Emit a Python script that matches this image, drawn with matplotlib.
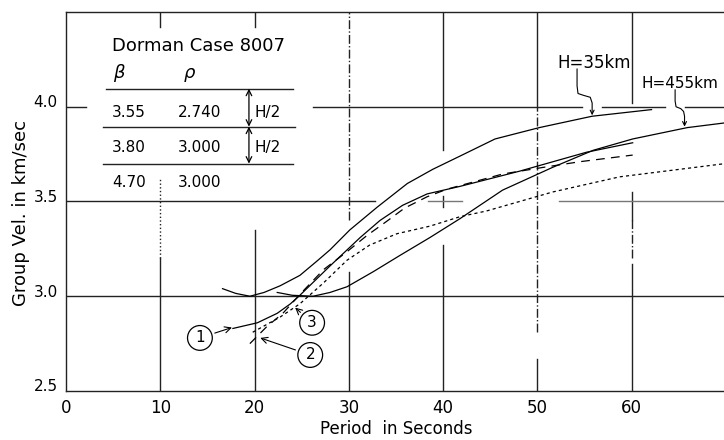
import matplotlib
matplotlib.use('Agg')
from matplotlib import pyplot as plt
from matplotlib.patches import FancyArrowPatch
from matplotlib.path import Path
from matplotlib import transforms

# H = 35 km curve
h35_x = [16.6, 18.0, 19.5, 21.0, 22.7, 24.8, 26.6, 28.0, 30.1, 33.0, 36.2, 38.9, 41.8, 45.5, 50.2, 55.8, 62.1]
h35_y = [3.04, 3.015, 3.0, 3.02, 3.055, 3.11, 3.185, 3.245, 3.35, 3.47, 3.595, 3.67, 3.74, 3.83, 3.89, 3.95, 3.985]

# H = 45.5 km curve
h455_x = [22.4, 24.0, 26.2, 28.0, 29.8, 32.6, 35.4, 38.6, 41.8, 46.3, 51.6, 55.9, 60.1, 65.9, 69.9]
h455_y = [3.02, 3.005, 3.0, 3.02, 3.05, 3.13, 3.215, 3.31, 3.41, 3.56, 3.68, 3.77, 3.83, 3.89, 3.915]

# curve (1) solid
c1_x = [17.7, 20.3, 22.4, 23.8, 24.8, 28.0, 31.2, 33.3, 35.7, 38.3, 41.8, 48.1, 55.2, 60.1]
c1_y = [2.83, 2.86, 2.91, 2.96, 3.005, 3.16, 3.31, 3.40, 3.48, 3.54, 3.58, 3.66, 3.76, 3.81]

# curve (2) long dashes
c2_x = [19.5, 21.3, 23.0, 25.0, 27.3, 29.8, 31.9, 34.0, 35.9, 38.3, 40.4, 46.3, 50.6, 54.5, 60.1]
c2_y = [2.75, 2.84, 2.91, 3.02, 3.14, 3.235, 3.32, 3.395, 3.465, 3.525, 3.565, 3.645, 3.68, 3.71, 3.745]

# curve (3) short dashes
c3_x = [19.8, 22.7, 24.8, 27.3, 29.8, 32.2, 35.1, 38.6, 41.8, 44.6, 51.6, 58.7, 69.9]
c3_y = [2.81, 2.89, 2.96, 3.07, 3.19, 3.27, 3.33, 3.37, 3.42, 3.45, 3.55, 3.63, 3.70]

x_ticks = [0, 10, 20, 30, 40, 50, 60]
y_ticks = [2.5, 3.0, 3.5, 4.0]

beta = ['3.55', '3.80', '4.70']
rho = ['2.740', '3.000', '3.000']

fig = plt.figure(figsize=(7.24, 4.40), dpi=100)
ax = fig.add_axes([0.0912, 0.1114, 0.9116, 0.8613])
ax.set_xlim(0, 70)
ax.set_ylim(2.5, 4.5)

gc = '#222222'
# broken vertical rulings, (x, y0, y1, style)
vsegs = [
    (10, 4.42, 4.5, '-'), (10, 3.2, 3.62, ':'), (10, 2.5, 3.2, '-'),
    (20, 4.42, 4.5, '-'), (20, 2.5, 3.35, '-'),
    (30, 3.4, 4.5, '-.'), (30, 2.5, 3.13, '-'),
    (40, 3.77, 4.5, '-'), (40, 3.47, 3.53, '-'), (40, 2.5, 3.27, '-'),
    (50, 4.0, 4.5, '-'), (50, 2.81, 4.0, '-.'), (50, 2.5, 2.67, '-'),
    (60, 4.02, 4.5, '-'), (60, 3.4, 3.55, '-'), (60, 3.2, 3.4, '-.'), (60, 2.5, 3.17, '-'),
]
for x, y0, y1, ls in vsegs:
    ax.plot([x, x], [y0, y1], color=gc, lw=1.0, ls=ls)

hsegs = [
    (4.0, 0, 2.1, gc), (4.0, 26.2, 54.7, gc), (4.0, 56.8, 63.5, gc), (4.0, 65.6, 70, gc),
    (3.5, 0, 32.8, gc), (3.5, 38.4, 42.0, '#777777'), (3.5, 52.3, 70, '#777777'),
    (3.0, 0, 70, gc),
]
for y, x0, x1, c in hsegs:
    ax.plot([x0, x1], [y, y], color=c, lw=1.0)

ax.plot(h35_x, h35_y, color='k', lw=0.9)
ax.plot(h455_x, h455_y, color='k', lw=0.9)
ax.plot(c1_x, c1_y, color='k', lw=0.9)
ax.plot(c2_x, c2_y, color='k', lw=0.9, dashes=(7, 5))
ax.plot(c3_x, c3_y, color='k', lw=0.9, dashes=(2.5, 2.5))

# table of layers
ax.text(4.9, 4.32, 'Dorman Case 8007', fontsize=13, va='center')
ax.text(5.0, 4.18, r'$\beta$', fontsize=13, va='center')
ax.text(12.4, 4.17, r'$\rho$', fontsize=13, va='center')
for yl, x0, x1 in [(4.095, 4.24, 24.1), (3.895, 3.9, 24.3), (3.70, 3.9, 24.1)]:
    ax.plot([x0, x1], [yl, yl], color=gc, lw=1.0)
rows_y = [3.97, 3.785, 3.60]
for b, r, yy in zip(beta, rho, rows_y):
    ax.text(4.9, yy, b, fontsize=11, va='center')
    ax.text(11.9, yy, r, fontsize=11, va='center')
ax.text(20.0, rows_y[0], 'H/2', fontsize=11, va='center')
ax.text(20.0, rows_y[1], 'H/2', fontsize=11, va='center')
for y0, y1 in [(4.095, 3.895), (3.895, 3.70)]:
    ax.annotate('', xy=(19.4, y1), xytext=(19.4, y0),
                arrowprops=dict(arrowstyle='<->', color='k', lw=0.9, shrinkA=0, shrinkB=0))

# H labels with wavy arrows
ax.text(52.1, 4.23, 'H=35km', fontsize=12, va='center')
ax.text(61.0, 4.125, 'H=455km', fontsize=11, va='center')
p1 = Path([(54.2, 4.20), (54.2, 4.11), (54.3, 4.07), (54.9, 4.06), (55.6, 4.05),
           (55.8, 4.02), (55.8, 3.955)])
p2 = Path([(64.6, 4.09), (64.6, 4.03), (64.7, 4.00), (65.2, 3.99), (65.5, 3.975),
           (65.6, 3.95), (65.6, 3.895)])
for p in [p1, p2]:
    ax.add_patch(FancyArrowPatch(path=p, arrowstyle='->', mutation_scale=7,
                                 color='k', lw=0.8))

# circled curve numbers
circ = dict(boxstyle='circle,pad=0.32', fc='white', ec='k', lw=0.9)
arw = dict(arrowstyle='->', color='k', lw=0.8, shrinkB=0)
ax.annotate('1', xy=(17.6, 2.835), xytext=(14.2, 2.78), fontsize=11,
            ha='center', va='center', bbox=circ, arrowprops=arw)
ax.annotate('2', xy=(20.6, 2.78), xytext=(25.9, 2.69), fontsize=11,
            ha='center', va='center', bbox=circ, arrowprops=arw)
ax.annotate('3', xy=(24.3, 2.94), xytext=(26.1, 2.86), fontsize=11,
            ha='center', va='center', bbox=circ, arrowprops=arw)

ax.set_xticks(x_ticks)
ax.set_yticks(y_ticks)
ax.set_yticklabels(['2.5', '3.0', '3.5', '4.0'])
ax.tick_params(axis='both', length=0)
ax.tick_params(axis='x', labelsize=12, pad=6)
ax.tick_params(axis='y', labelsize=11, pad=6)
off = transforms.ScaledTranslation(0, 4 / 72, fig.dpi_scale_trans)
for lab in ax.get_yticklabels():
    lab.set_transform(lab.get_transform() + off)

ax.set_xlabel('Period  in Seconds', fontsize=12, labelpad=2)
ax.set_ylabel('Group Vel. in km/sec', fontsize=13, labelpad=4)
ax.yaxis.set_label_coords(-0.054, 0.47)
ax.spines['right'].set_visible(False)
for s in ['left', 'bottom', 'top']:
    ax.spines[s].set_color(gc)
    ax.spines[s].set_linewidth(1.0)

plt.savefig('out.png', dpi=100)
